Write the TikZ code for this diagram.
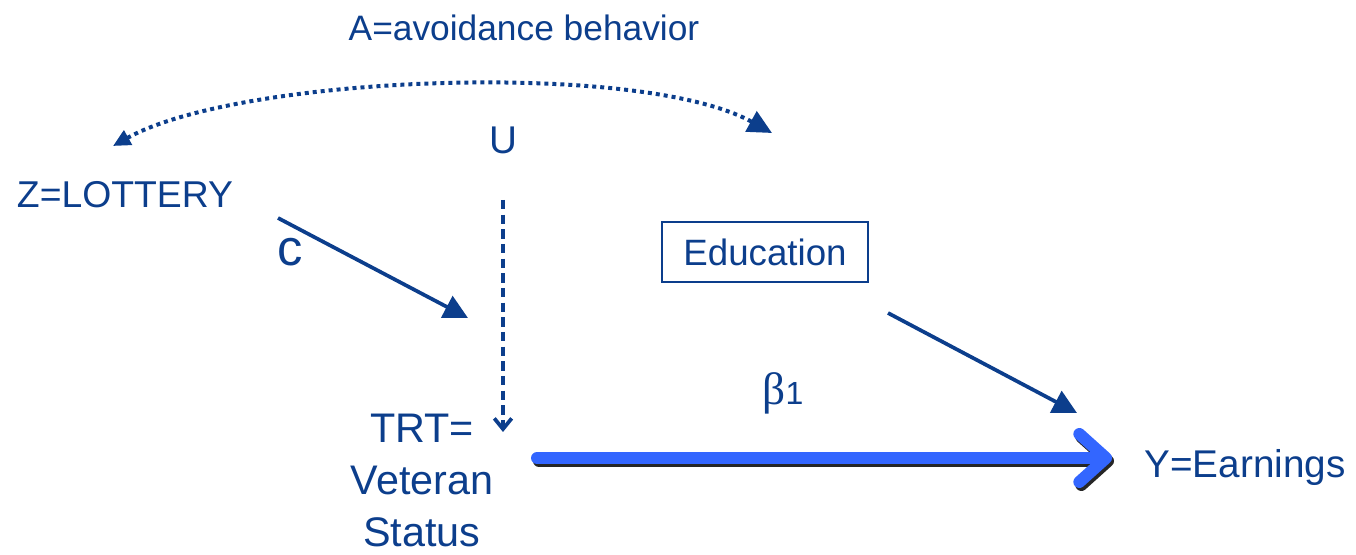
\documentclass[tikz,border=0pt]{standalone}
\usepackage{fontspec}
\setmainfont{Liberation Sans}
\newfontfamily\greekfont{Liberation Serif}
\usetikzlibrary{arrows.meta}
\definecolor{navy}{RGB}{12,62,140}
\definecolor{brightblue}{RGB}{51,102,255}
\definecolor{shade}{RGB}{50,50,60}
\begin{document}
\begin{tikzpicture}[x=0.75pt,y=-0.75pt,
  lbl/.style={text=navy,inner sep=0pt,font=\fontsize{#1}{#1}\selectfont},
  lbl/.default=28pt,
  solidarrow/.style={draw=navy,line width=2.8pt,-{Triangle[length=18pt,width=18pt]}},
  dashedarrow/.style={draw=navy,line width=2.8pt,dash pattern=on 7pt off 4pt,-{Straight Barb[length=8pt,width=13pt]}},
  dottedarc/.style={draw=navy,line width=3pt,dash pattern=on 3pt off 3pt,
     {Triangle[length=13pt,width=12pt]}-{Triangle[length=18pt,width=17pt]}},
  mainarrow/.style={line width=9pt,line cap=round,-{Straight Barb[round,length=20pt,width=36pt]}}
]
\useasboundingbox (0,0) rectangle (1356,555);

% labels
\node[lbl=26.5pt] (A) at (524,28) {A=avoidance behavior};
\node[lbl=29pt] (U) at (503,140) {U};
\node[lbl=28pt] (Z) at (125,195) {Z=LOTTERY};
\node[lbl=38pt] (c) at (290,252) {c};
\node[lbl=31pt,align=center] (TRT) at (422,480) {TRT=\\[8pt]Veteran\\[8pt]Status};
\node[lbl=27.5pt,draw=navy,line width=1.3pt,minimum width=154.5pt,
      minimum height=45pt] (edu) at (765,252) {Education};
\node[lbl=34pt] (beta) at (783,393) {{\greekfont β}\fontsize{24pt}{24pt}\selectfont 1};
\node[lbl=29pt] (Y) at (1245,468) {Y=Earnings};

% connector end points
\coordinate (arcL) at (113,146);
\coordinate (arcR) at (772,133);
\coordinate (zout) at (278,218);
\coordinate (trtin) at (468,318);
\coordinate (uout) at (503,200);
\coordinate (trttop) at (503,432);
\coordinate (eduout) at (888,313);
\coordinate (yin) at (1077,413);
\coordinate (trtout) at (537,458);
\coordinate (yleft) at (1112,458);

% connectors
\draw[dottedarc] (arcL) .. controls (240,75) and (640,60) .. (arcR);
\draw[solidarrow] (zout) -- (trtin);
\draw[dashedarrow] (uout) -- (trttop);
\draw[solidarrow] (eduout) -- (yin);
\draw[mainarrow,shade,opacity=0.85] ([shift={(2,3)}]trtout) -- ([shift={(2,3)}]yleft);
\draw[mainarrow,brightblue] (trtout) -- (yleft);
\end{tikzpicture}
\end{document}
